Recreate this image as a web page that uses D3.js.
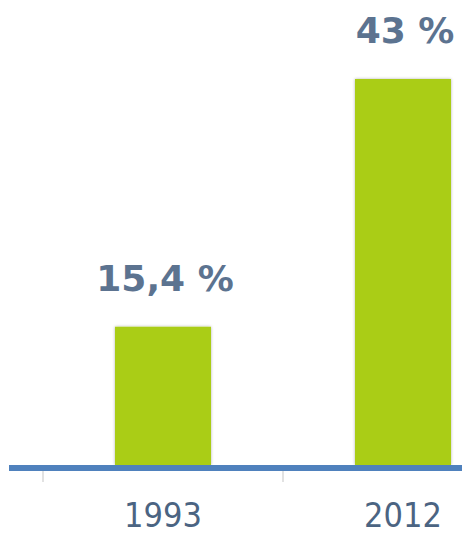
<!DOCTYPE html>
<html lang="fr">
<head>
  <meta charset="UTF-8">
  <title>bar chart</title>
  <script src="https://d3js.org/d3.v7.min.js"></script>
  <style>
    html, body { margin: 0; padding: 0; background: #fff; }
  </style>
</head>
<body>
<script>
  const years = ['1993', '2012'];
  const values = [15.4, 43];
  const valueLabels = ['15,4 %', '43 %'];

  const width = 462;
  const height = 536;
  const baseY = 465;

  const svg = d3.select('body').append('svg')
    .attr('width', width)
    .attr('height', height)
    .attr('viewBox', [0, 0, width, height]);

  const defs = svg.append('defs');
  const shadow = defs.append('filter').attr('id', 'shadow')
    .attr('x', '-10%').attr('y', '-10%').attr('width', '120%').attr('height', '120%');
  shadow.append('feDropShadow')
    .attr('dx', 0).attr('dy', 0).attr('stdDeviation', 1.6)
    .attr('flood-color', '#000').attr('flood-opacity', 0.3);

  const x = d3.scaleBand()
    .domain(years)
    .range([43, 523])
    .padding(0);

  const y = d3.scaleLinear()
    .domain([0, 43])
    .range([baseY, 79]);

  const barW = x.bandwidth() * 0.4;

  // bars
  svg.append('g')
    .selectAll('rect')
    .data(values)
    .join('rect')
    .attr('x', (d, i) => x(years[i]) + x.bandwidth() / 2 - barW / 2)
    .attr('y', d => y(d))
    .attr('width', barW)
    .attr('height', d => y(0) - y(d))
    .attr('fill', '#aacd17')
    .attr('filter', 'url(#shadow)');

  // category separators
  svg.append('g')
    .selectAll('line')
    .data(years)
    .join('line')
    .attr('x1', d => x(d)).attr('x2', d => x(d))
    .attr('y1', baseY + 6).attr('y2', baseY + 17)
    .attr('stroke', '#d9d9d9')
    .attr('stroke-width', 1.5);

  // baseline
  svg.append('line')
    .attr('x1', 9).attr('x2', width)
    .attr('y1', baseY + 3).attr('y2', baseY + 3)
    .attr('stroke', '#4f81bd')
    .attr('stroke-width', 6);

  // year labels
  svg.append('g')
    .selectAll('text')
    .data(years)
    .join('text')
    .attr('x', d => x(d) + x.bandwidth() / 2)
    .attr('y', 527)
    .attr('text-anchor', 'middle')
    .style('font-family', '"DejaVu Sans Condensed", "DejaVu Sans", sans-serif')
    .style('font-stretch', 'condensed')
    .style('font-size', '34px')
    .attr('fill', '#4b6482')
    .text(d => d);

  // value labels
  svg.append('g')
    .selectAll('text')
    .data(values)
    .join('text')
    .attr('x', (d, i) => x(years[i]) + x.bandwidth() / 2 + 2)
    .attr('y', (d, i) => y(d) - 36)
    .attr('text-anchor', 'middle')
    .style('font-family', '"DejaVu Sans", sans-serif')
    .style('font-weight', 'bold')
    .style('font-size', '36px')
    .attr('fill', '#5c7390')
    .text((d, i) => valueLabels[i]);
</script>
</body>
</html>
